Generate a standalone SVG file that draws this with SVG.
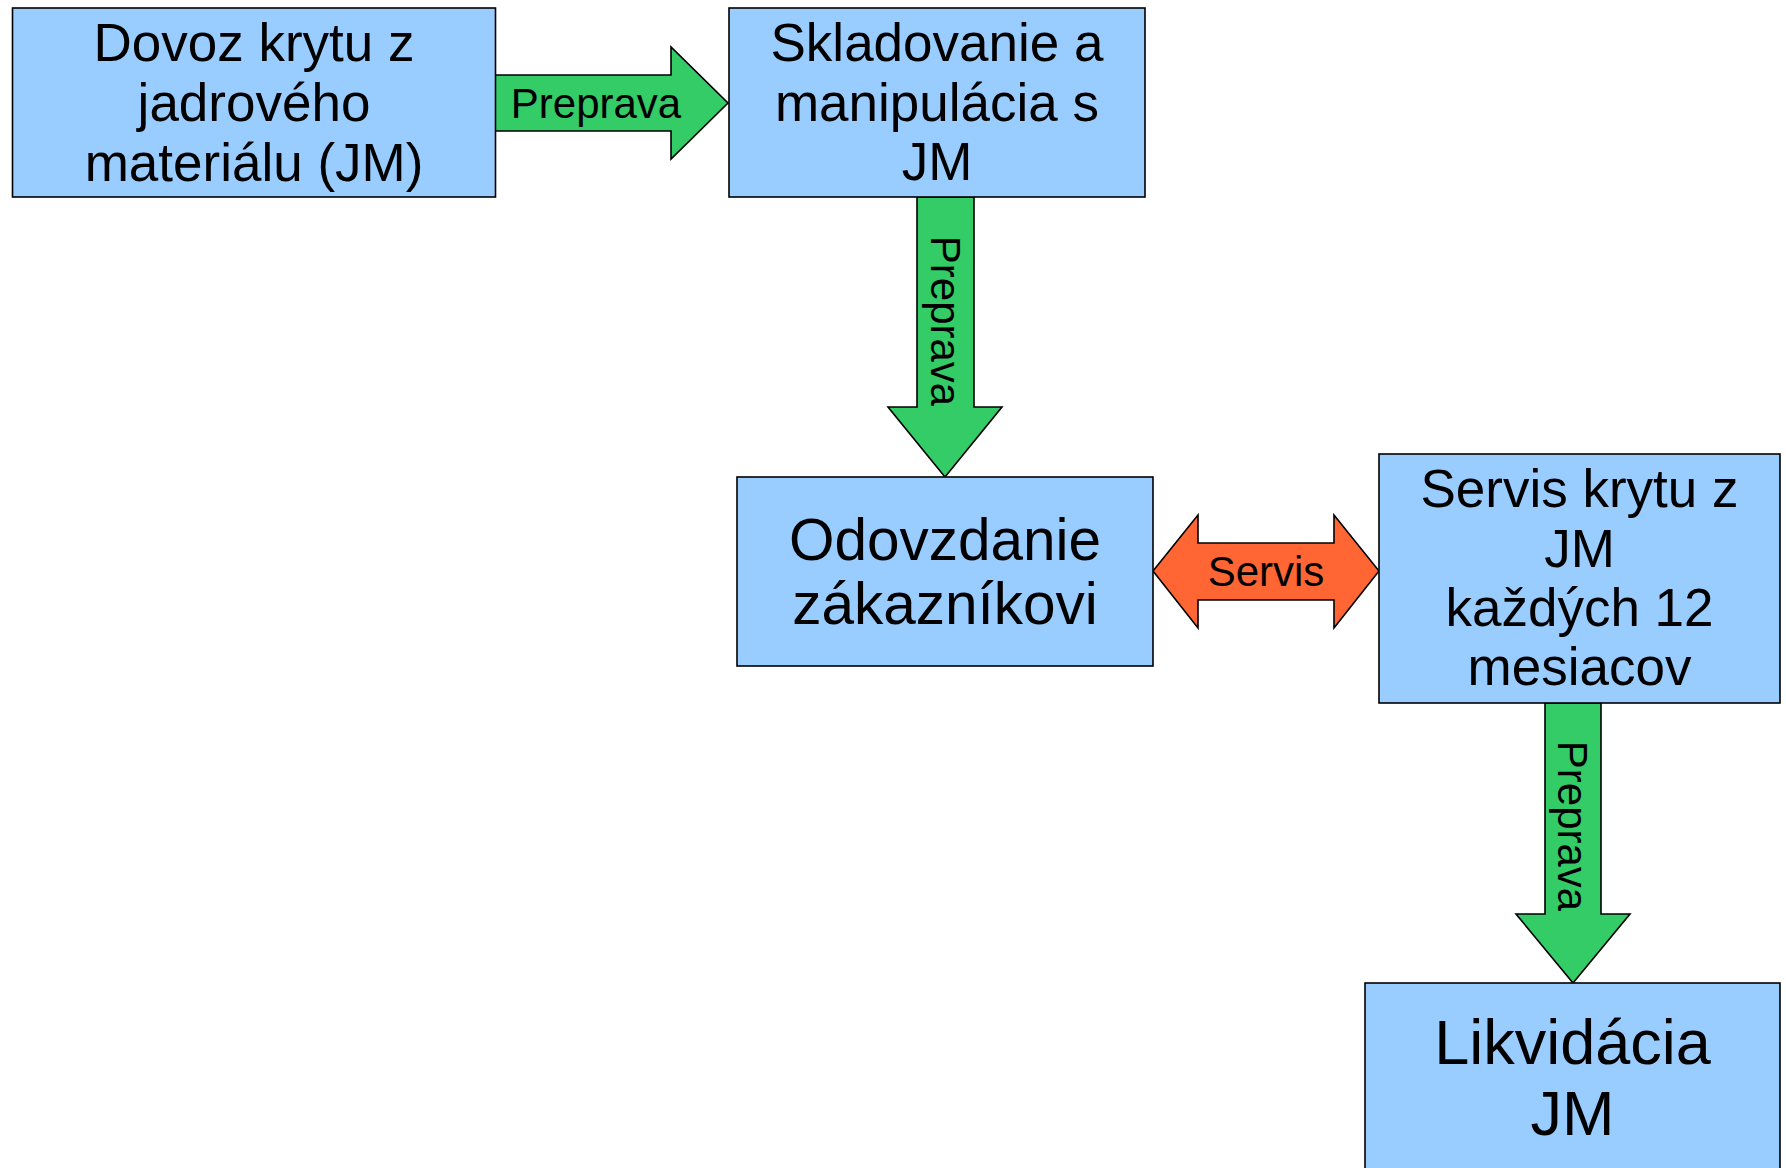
<svg xmlns="http://www.w3.org/2000/svg" width="1786" height="1168" viewBox="0 0 1786 1168">
<style>
.box{fill:#99ccff;stroke:#000;stroke-width:1.6}
.t{font-family:"Liberation Sans",Arial,sans-serif;font-size:53px;fill:#000;text-anchor:middle}
.mid{font-size:58.5px}
.big{font-size:63px}
.lbl{font-family:"Liberation Sans",Arial,sans-serif;font-size:42px;fill:#000;text-anchor:middle}
.green{fill:#33cc66;stroke:#000;stroke-width:1.6;stroke-linejoin:miter}
.orange{fill:#ff6633;stroke:#000;stroke-width:1.6}
</style>
<rect width="1786" height="1168" fill="#fff"/>
<g id="connectors">
  <g id="arrow1">
    <polygon class="green" points="495,75 671,75 671,47 728,103 671,159 671,131 495,131"/>
    <text class="lbl" x="596" y="118">Preprava</text>
  </g>
  <g id="arrow2">
    <polygon class="green" points="917,197 974,197 974,407 1002,407 945,477 888,407 917,407"/>
    <text class="lbl" transform="translate(945.5,321) rotate(90)" x="0" y="15">Preprava</text>
  </g>
  <g id="arrow3">
    <polygon class="orange" points="1153,571 1198,515 1198,543 1334,543 1334,515 1379,571 1334,628 1334,600 1198,600 1198,628"/>
    <text class="lbl" x="1266" y="586">Servis</text>
  </g>
  <g id="arrow4">
    <polygon class="green" points="1545,703 1601,703 1601,914 1630,914 1573,983 1516,914 1545,914"/>
    <text class="lbl" transform="translate(1573,826) rotate(90)" x="0" y="15">Preprava</text>
  </g>
</g>
<g id="node1">
  <rect class="box" x="12.5" y="8" width="483" height="189"/>
  <text class="t" x="254" y="61">Dovoz krytu z</text>
  <text class="t" x="254" y="121">jadrového</text>
  <text class="t" x="254" y="181">materiálu (JM)</text>
</g>
<g id="node2">
  <rect class="box" x="729" y="8" width="416" height="189"/>
  <text class="t" x="937" y="61">Skladovanie a</text>
  <text class="t" x="937" y="121">manipulácia s</text>
  <text class="t" x="937" y="180">JM</text>
</g>
<g id="node3">
  <rect class="box" x="737" y="477" width="416" height="189"/>
  <text class="t mid" x="945" y="560">Odovzdanie</text>
  <text class="t mid" x="945" y="624">zákazníkovi</text>
</g>
<g id="node4">
  <rect class="box" x="1379" y="454" width="401" height="249"/>
  <text class="t" x="1579.5" y="507">Servis krytu z</text>
  <text class="t" x="1579.5" y="567">JM</text>
  <text class="t" x="1579.5" y="626">každých 12</text>
  <text class="t" x="1579.5" y="685">mesiacov</text>
</g>
<g id="node5">
  <rect class="box" x="1365" y="983" width="415" height="200"/>
  <text class="t big" x="1572.5" y="1064">Likvidácia</text>
  <text class="t big" x="1572.5" y="1135">JM</text>
</g>
</svg>
